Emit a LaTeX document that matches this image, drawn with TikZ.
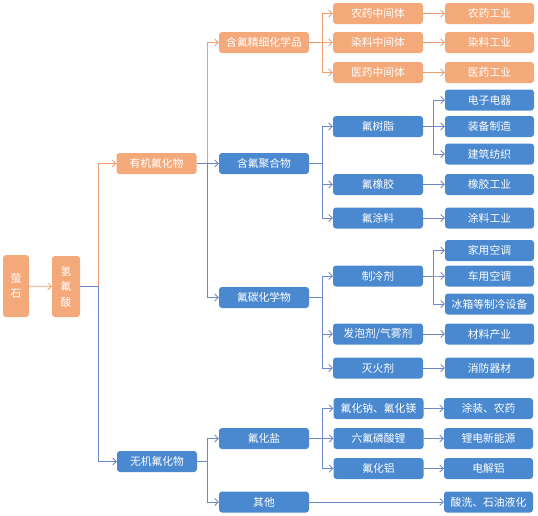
\documentclass[tikz,border=0pt]{standalone}
\usepackage{fontspec}
\setmainfont{Noto Sans CJK SC}
\usetikzlibrary{arrows.meta}
\definecolor{ofill}{HTML}{F4A97B}
\definecolor{oline}{HTML}{F09E6C}
\definecolor{bfill}{HTML}{4A89CF}
\definecolor{bline}{HTML}{6F88CB}
\tikzset{
  box/.style={rounded corners=3pt, text=white, inner sep=0pt, minimum height=21pt, font=\fontsize{10.8}{12}\selectfont},
  obox/.style={box, fill=ofill},
  bbox/.style={box, fill=bfill},
  vbox/.style={obox, align=center, font=\fontsize{10.8}{15.5}\selectfont},
  wa/.style={minimum width=80pt},
  wb/.style={minimum width=90pt},
  wc/.style={minimum width=89pt},
  conn/.style={line width=0.8pt, -{Straight Barb[length=3.5pt,width=7pt]}},
  oc/.style={conn, draw=oline},
  bc/.style={conn, draw=bline},
}
\begin{document}
\begin{tikzpicture}[x=1pt,y=-1pt]
\useasboundingbox (0,0) rectangle (538,515);
% level 0
\node[vbox, minimum width=26pt, minimum height=62pt] (ys) at (16,286) {萤\\石};
\node[vbox, minimum width=28pt, minimum height=61pt] (hf) at (66,286.5) {氢\\氟\\酸};
% level 1
\node[obox, wa] (yj) at (156.5,163.5) {有机氟化物};
\node[bbox, wa] (wj) at (157,461.5) {无机氟化物};
% level 2
\node[obox, wb] (jx) at (264,42.5) {含氟精细化学品};
\node[bbox, wb] (jh) at (264,163.5) {含氟聚合物};
\node[bbox, wb] (tc) at (264,297.5) {氟碳化学物};
\node[bbox, wb] (fy) at (264,438.5) {氟化盐};
\node[bbox, wb] (qt) at (264,502) {其他};
% level 3
\node[obox, wb] (nz) at (378,13.5) {农药中间体};
\node[obox, wb] (rz) at (378,42.5) {染料中间体};
\node[obox, wb] (yz) at (378,72.5) {医药中间体};
\node[bbox, wb] (fs) at (378,126.5) {氟树脂};
\node[bbox, wb] (fx) at (378,184.5) {氟橡胶};
\node[bbox, wb] (ft) at (378,218) {氟涂料};
\node[bbox, wb] (zl) at (378,276) {制冷剂};
\node[bbox, wb] (fp) at (378,334) {发泡剂/气雾剂};
\node[bbox, wb] (mh) at (378,368) {灭火剂};
\node[bbox, wb] (fn) at (378.5,408.5) {氟化钠、氟化镁};
\node[bbox, wb] (lf) at (378.5,438.5) {六氟磷酸锂};
\node[bbox, wb] (fl) at (378.5,468.5) {氟化铝};
% level 4
\node[obox, wc] (ny) at (489.5,13.5) {农药工业};
\node[obox, wc] (ry) at (489.5,42.5) {染料工业};
\node[obox, wc] (yy) at (489.5,72.5) {医药工业};
\node[bbox, wc] (dz) at (489.5,100) {电子电器};
\node[bbox, wc] (zb) at (489.5,126.5) {装备制造};
\node[bbox, wc] (jz) at (489.5,154) {建筑纺织};
\node[bbox, wc] (xj) at (489.5,184.5) {橡胶工业};
\node[bbox, wc] (tl) at (489.5,218) {涂料工业};
\node[bbox, wc] (jk) at (489.5,250.5) {家用空调};
\node[bbox, wc] (ck) at (489.5,276) {车用空调};
\node[bbox, wc] (bx) at (489.5,304) {冰箱等制冷设备};
\node[bbox, wc] (cl) at (489.5,334) {材料产业};
\node[bbox, wc] (xf) at (489.5,368) {消防器材};
\node[bbox, wc] (tz) at (488.5,408.5) {涂装、农药};
\node[bbox, wc] (ld) at (488.5,438.5) {锂电新能源};
\node[bbox, wc] (dj) at (488.5,468.5) {电解铝};
\node[bbox, wc] (sx) at (488.5,502) {酸洗、石油液化};
% bus coordinates
\coordinate (b0) at (98,286.5);
\coordinate (b1) at (207,163.5);
\coordinate (b2) at (207,461.5);
\coordinate (b3) at (322,42.5);
\coordinate (b4) at (322,163.5);
\coordinate (b5) at (322,297.5);
\coordinate (b6) at (322,438.5);
\coordinate (b7) at (433,126.5);
\coordinate (b8) at (433,276);
% connectors
\draw[oc] (ys) -- (hf);
\draw[oc] (hf.east) -- (b0) |- (yj.west);
\draw[bc] (hf.east) -- (b0) |- (wj.west);
\draw[oc] (yj.east) -- (b1) |- (jx.west);
\draw[bc] (yj.east) -- (b1) |- (jh.west);
\draw[bc] (yj.east) -- (b1) |- (tc.west);
\draw[bc] (wj.east) -- (b2) |- (fy.west);
\draw[bc] (wj.east) -- (b2) |- (qt.west);
\foreach \c in {nz,rz,yz} \draw[oc] (jx.east) -- (b3) |- (\c.west);
\foreach \c in {fs,fx,ft} \draw[bc] (jh.east) -- (b4) |- (\c.west);
\foreach \c in {zl,fp,mh} \draw[bc] (tc.east) -- (b5) |- (\c.west);
\foreach \c in {fn,lf,fl} \draw[bc] (fy.east) -- (b6) |- (\c.west);
\foreach \c in {dz,zb,jz} \draw[bc] (fs.east) -- (b7) |- (\c.west);
\foreach \c in {jk,ck,bx} \draw[bc] (zl.east) -- (b8) |- (\c.west);
\draw[oc] (nz) -- (ny);
\draw[oc] (rz) -- (ry);
\draw[oc] (yz) -- (yy);
\draw[bc] (fx) -- (xj);
\draw[bc] (ft) -- (tl);
\draw[bc] (fp) -- (cl);
\draw[bc] (mh) -- (xf);
\draw[bc] (fn) -- (tz);
\draw[bc] (lf) -- (ld);
\draw[bc] (fl) -- (dj);
\draw[bc] (qt) -- (sx);
\end{tikzpicture}
\end{document}
